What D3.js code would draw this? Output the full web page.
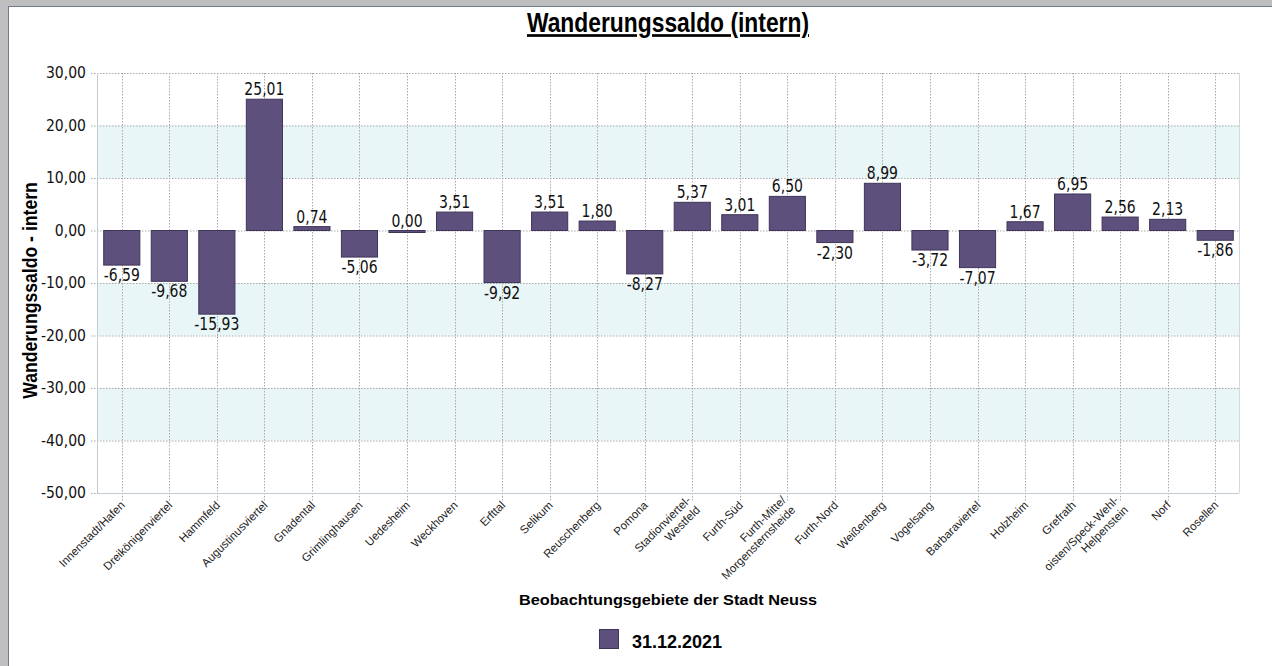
<!DOCTYPE html>
<html>
<head>
<meta charset="utf-8">
<script src="https://cdn.jsdelivr.net/npm/d3@7"></script>
<style>
	html, body { margin: 0; padding: 0; background: #fff; }
	svg { display: block; }
</style>
</head>
<body>
<script>
// Gebiete und Werte (31.12.2021)
let gebiete = [
	['Innenstadt/Hafen'], ['Dreikönigenviertel'], ['Hammfeld'], ['Augustinusviertel'],
	['Gnadental'], ['Grimlinghausen'], ['Uedesheim'], ['Weckhoven'], ['Erfttal'],
	['Selikum'], ['Reuschenberg'], ['Pomona'], ['Stadionviertel-', 'Westfeld'],
	['Furth-Süd'], ['Furth-Mitte/', 'Morgensternsheide'], ['Furth-Nord'], ['Weißenberg'],
	['Vogelsang'], ['Barbaraviertel'], ['Holzheim'], ['Grefrath'],
	['oisten/Speck-Wehl-', 'Helpenstein'], ['Norf'], ['Rosellen']
]
let saldo = [-6.59, -9.68, -15.93, 25.01, 0.74, -5.06, 0.00, 3.51, -9.92, 3.51, 1.80, -8.27,
	5.37, 3.01, 6.50, -2.30, 8.99, -3.72, -7.07, 1.67, 6.95, 2.56, 2.13, -1.86]
let yTicks = [30, 20, 10, 0, -10, -20, -30, -40, -50]
let baender = [[10, 20], [-20, -10], [-40, -30]]

let W = 1272, H = 666
let m = { left: 98, right: 1239, top: 73, bottom: 493 }
let de = d3.formatLocale({ decimal: ',', thousands: '.', grouping: [3], currency: ['', ' €'], minus: '-' })
let fmt = de.format('.2f')

let svg = d3.select('body').append('svg')
	.attr('width', W)
	.attr('height', H)

// Fensterrahmen
svg.append('rect').attr('width', W).attr('height', 6).attr('fill', '#bebebe')
svg.append('rect').attr('width', 8).attr('height', H).attr('fill', '#bebebe')
svg.append('line').attr('x1', 8).attr('x2', W).attr('y1', 6.5).attr('y2', 6.5)
	.attr('stroke', '#6e7c8c')
svg.append('line').attr('x1', 8.5).attr('x2', 8.5).attr('y1', 6).attr('y2', H)
	.attr('stroke', '#6e7c8c')

let x = d3.scaleBand()
	.domain(d3.range(gebiete.length))
	.range([m.left, m.right])
	.paddingInner(0.24)
	.paddingOuter(0.12)
let y = d3.scaleLinear().domain([-50, 30]).range([m.bottom, m.top])
let xc = i => x(i) + x.bandwidth() / 2

// Bänder
svg.append('g').selectAll('rect').data(baender).join('rect')
	.attr('x', m.left)
	.attr('width', m.right - m.left)
	.attr('y', d => y(d[1]))
	.attr('height', d => y(d[0]) - y(d[1]))
	.attr('fill', '#e8f6f7')

// Gitter
let grid = svg.append('g')
	.attr('stroke', '#a9a9a9')
	.attr('stroke-dasharray', '1.5,1.5')
grid.selectAll('.h').data(yTicks).join('line')
	.attr('x1', 91).attr('x2', m.right)
	.attr('y1', d => y(d) + 0.5).attr('y2', d => y(d) + 0.5)
grid.selectAll('.v').data(d3.range(gebiete.length)).join('line')
	.attr('x1', d => Math.round(xc(d)) + 0.5).attr('x2', d => Math.round(xc(d)) + 0.5)
	.attr('y1', m.top).attr('y2', m.bottom + 8)

// Achsenlinien
svg.append('line').attr('x1', m.left - 0.5).attr('x2', m.left - 0.5)
	.attr('y1', m.top).attr('y2', m.bottom).attr('stroke', '#c4ccd6')
svg.append('line').attr('x1', m.left).attr('x2', m.right)
	.attr('y1', m.bottom + 0.5).attr('y2', m.bottom + 0.5).attr('stroke', '#c4ccd6')
svg.append('line').attr('x1', m.right + 0.5).attr('x2', m.right + 0.5)
	.attr('y1', m.top).attr('y2', m.bottom).attr('stroke', '#d4d8dd')

// y-Beschriftung
svg.append('g').selectAll('text').data(yTicks).join('text')
	.attr('transform', d => `translate(86,${y(d)}) scale(1,1.08)`)
	.attr('dy', '0.36em')
	.attr('text-anchor', 'end')
	.attr('font-family', 'DejaVu Sans')
	.attr('font-size', 14)
	.attr('fill', '#111')
	.text(fmt)

// Balken
svg.append('g').selectAll('rect').data(saldo).join('rect')
	.attr('x', (d, i) => x(i))
	.attr('width', x.bandwidth())
	.attr('y', d => y(Math.max(0, d)))
	.attr('height', d => Math.max(2, Math.abs(y(d) - y(0))))
	.attr('fill', '#5e507c')
	.attr('stroke', '#3f3558')
	.attr('stroke-width', 1)

// Werte
svg.append('g').selectAll('text').data(saldo).join('text')
	.attr('transform', (d, i) => `translate(${xc(i)},${d >= 0 ? y(d) - 4 : y(d) + 16}) scale(1,1.2)`)
	.attr('text-anchor', 'middle')
	.attr('font-family', 'DejaVu Sans')
	.attr('font-size', 14)
	.attr('fill', '#111')
	.text(fmt)

// x-Beschriftung
let lab = svg.append('g').selectAll('text').data(gebiete).join('text')
	.attr('transform', (d, i) => `translate(${xc(i) + 1},${m.bottom + 10}) rotate(-45)`)
	.attr('text-anchor', 'end')
	.attr('font-family', 'Liberation Sans')
	.attr('font-size', 11.5)
	.attr('fill', '#222')
lab.selectAll('tspan').data(d => d.map((t, k) => ({ t, k, n: d.length }))).join('tspan')
	.attr('x', 0)
	.attr('y', d => (d.k - (d.n - 1) / 2) * 13.5)
	.attr('dy', '0.35em')
	.text(d => d.t)

// Titel
svg.append('text')
	.attr('transform', 'translate(668,32) scale(0.846,1)')
	.attr('text-anchor', 'middle')
	.attr('font-family', 'Liberation Sans')
	.attr('font-weight', 'bold')
	.attr('font-size', 27)
	.attr('text-decoration', 'underline')
	.text('Wanderungssaldo (intern)')

svg.append('text')
	.attr('transform', `translate(37,290.5) rotate(-90) scale(0.86,1)`)
	.attr('text-anchor', 'middle')
	.attr('font-family', 'Liberation Sans')
	.attr('font-weight', 'bold')
	.attr('font-size', 20.5)
	.text('Wanderungssaldo - intern')

svg.append('text')
	.attr('transform', 'translate(668,605) scale(1.05,1)')
	.attr('text-anchor', 'middle')
	.attr('font-family', 'Liberation Sans')
	.attr('font-weight', 'bold')
	.attr('font-size', 15.5)
	.text('Beobachtungsgebiete der Stadt Neuss')

// Legende
svg.append('rect')
	.attr('x', 599.5).attr('y', 629.5).attr('width', 19).attr('height', 19)
	.attr('fill', '#5e507c').attr('stroke', '#3f3558')
svg.append('text')
	.attr('x', 632).attr('y', 648)
	.attr('font-family', 'Liberation Sans')
	.attr('font-weight', 'bold')
	.attr('font-size', 18)
	.text('31.12.2021')
</script>
</body>
</html>
